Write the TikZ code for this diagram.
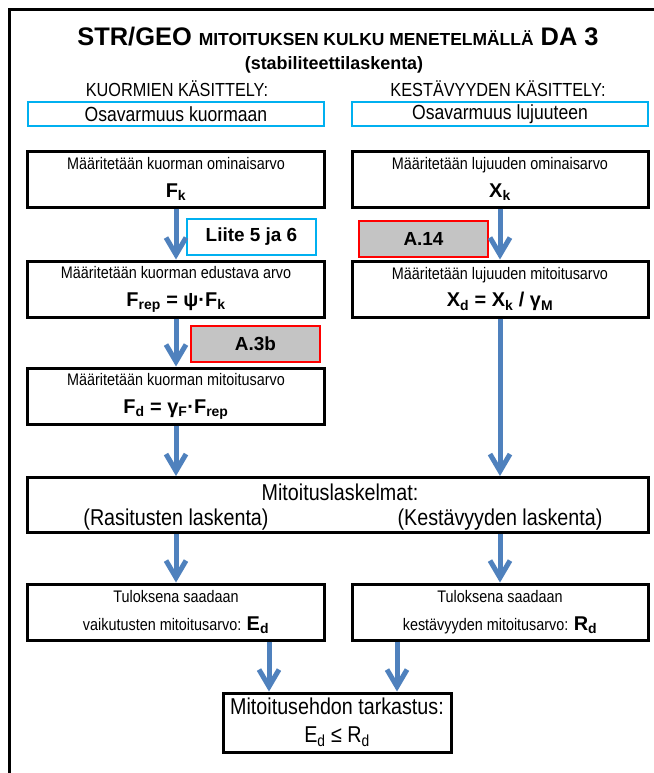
\documentclass[tikz,border=0pt]{standalone}
\usepackage{fontspec}
\setmainfont{Liberation Sans}
\newfontfamily\narrowsf[FakeStretch=0.86]{Liberation Sans}
\usetikzlibrary{arrows.meta,positioning,calc}

\definecolor{notecyan}{RGB}{0,176,240}
\definecolor{flowblue}{RGB}{79,129,189}
\definecolor{refgray}{RGB}{196,196,196}
\newcommand{\fsz}[2]{\fontsize{#1}{#2}\selectfont}
\newcommand{\bfv}{\rmfamily\bfseries}

\begin{document}
\begin{tikzpicture}[x=1bp, y=-1bp,
    block/.style={draw, line width=3bp, minimum width=296bp, minimum height=56bp, align=center, inner sep=0pt, font=\narrowsf\fsz{16.8}{28}},
    head/.style={font=\narrowsf\fsz{19}{20}, inner sep=0pt},
    note/.style={draw=notecyan, line width=2bp, minimum height=24bp, inner sep=0pt},
    refbox/.style={draw=red, fill=refgray, line width=1.5bp, minimum width=129bp, minimum height=36bp, inner sep=0pt, font=\bfv\fsz{19}{21}},
    arrow/.style={draw=flowblue, line width=5bp, -{Straight Barb[length=17bp, width=20bp]}},
]
    \fill[white] (0,0) rectangle (654,773);
    \useasboundingbox (0,0) rectangle (654,773);
    \draw[line width=2.5bp] (9.5,773) -- (9.5,9.5) -- (654,9.5);

    % otsikko
    \node[inner sep=0pt, font=\bfv\fsz{25.5}{25}] (title) at (338,37) {STR/GEO {\fsz{17.5}{20}MITOITUKSEN KULKU MENETELMÄLLÄ} DA 3};
    \node[inner sep=0pt, font=\bfv\fsz{18}{20}] (sub) at (334,65) {(stabiliteettilaskenta)};
    \node[head] (hload) at (177,89) {KUORMIEN KÄSITTELY:};
    \node[head] (hres) at (498,89) {KESTÄVYYDEN KÄSITTELY:};
    \node[note, minimum width=296bp, font=\narrowsf\fsz{20.5}{22}] (osak) at (176,114) {Osavarmuus kuormaan};
    \node[note, minimum width=296bp, font=\narrowsf\fsz{20.5}{22}] (osal) at (500,114) {Osavarmuus lujuuteen};

    % vasen sarake
    \node[block] (fk) at (176,179) {Määritetään kuorman ominaisarvo\\{\bfv\fsz{20}{28}F\textsubscript{k}}};
    \node[block] (frep) at (176,289) {Määritetään kuorman edustava arvo\\{\bfv\fsz{20}{28}F\textsubscript{rep} = ψ·F\textsubscript{k}}};
    \node[block] (fd) at (176,396) {Määritetään kuorman mitoitusarvo\\{\bfv\fsz{20}{28}F\textsubscript{d} = γ\textsubscript{F}·F\textsubscript{rep}}};
    \node[note, minimum width=129bp, minimum height=36bp, font=\bfv\fsz{19}{21}] (liite) at (251.5,237) {Liite 5 ja 6};
    \node[refbox] (a3b) at (255.5,344) {A.3b};

    % oikea sarake
    \node[block] (xk) at (500,179) {Määritetään lujuuden ominaisarvo\\{\bfv\fsz{20}{28}X\textsubscript{k}}};
    \node[block] (xd) at (500,289) {Määritetään lujuuden mitoitusarvo\\{\bfv\fsz{20}{28}X\textsubscript{d} = X\textsubscript{k} / γ\textsubscript{M}}};
    \node[refbox] (a14) at (423.5,239) {A.14};

    % mitoituslaskelmat
    \node[draw, line width=3bp, minimum width=620bp, minimum height=55bp, inner sep=0pt] (calc) at (338,505) {};
    \node[inner sep=0pt, font=\narrowsf\fsz{23}{24}] (calct) at (340,492) {Mitoituslaskelmat:};
    \node[inner sep=0pt, font=\narrowsf\fsz{23}{24}] (rasit) at (176,520) {(Rasitusten laskenta)};
    \node[inner sep=0pt, font=\narrowsf\fsz{23}{24}] (kest) at (500,520) {(Kestävyyden laskenta)};

    \node[block] (ed) at (176,612) {Tuloksena saadaan\\vaikutusten mitoitusarvo: {\bfv\fsz{20}{28}E\textsubscript{d}}};
    \node[block] (rd) at (500,612) {Tuloksena saadaan\\kestävyyden mitoitusarvo: {\bfv\fsz{20}{28}R\textsubscript{d}}};

    \node[block, minimum width=228bp, minimum height=59bp, font=\narrowsf\fsz{23}{28}] (fin) at (337,722.5) {Mitoitusehdon tarkastus:\\E\textsubscript{d} ≤ R\textsubscript{d}};

    \draw[arrow] (fk) -- (frep);
    \draw[arrow] (frep) -- (fd);
    \draw[arrow] (fd) -- (fd.south |- calc.north);
    \draw[arrow] (xk) -- (xd);
    \draw[arrow] (xd) -- (xd.south |- calc.north);
    \draw[arrow] (calc.south -| ed.north) -- (ed);
    \draw[arrow] (calc.south -| rd.north) -- (rd);
    \draw[arrow] ([xshift=-68bp]fin.north |- ed.south) -- ([xshift=-68bp]fin.north);
    \draw[arrow] ([xshift=60bp]fin.north |- rd.south) -- ([xshift=60bp]fin.north);
\end{tikzpicture}
\end{document}
